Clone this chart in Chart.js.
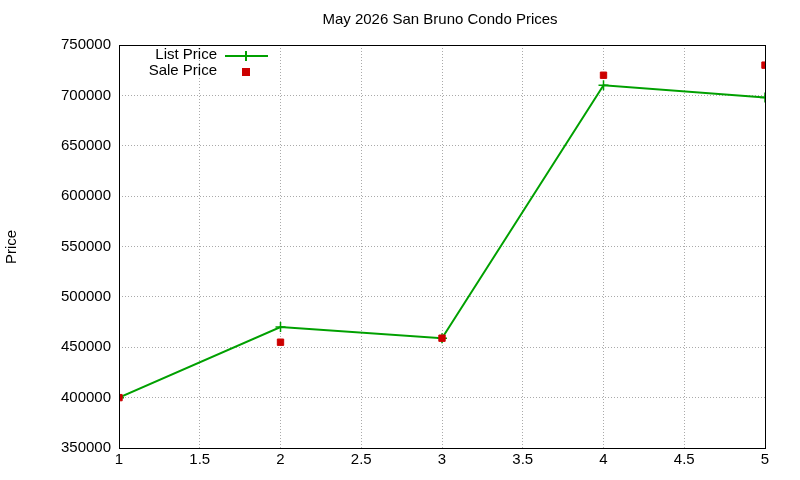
<!DOCTYPE html>
<html><head><script src="https://cdn.jsdelivr.net/npm/chart.js@4"></script>
<style>html,body{margin:0;background:#fff}#w{width:800px;height:480px}</style></head>
<body><div id="w"><canvas id="c"></canvas></div>
<script>
const xValues=[1,2,3,4,5];
const listPrice=[400000,470000,459000,710000,698000];
const salePrice=[400000,455000,459000,720000,730000];
const titleText='May 2026 San Bruno Condo Prices';
const yTitle='Price';
const F='"Liberation Sans", Arial, sans-serif';
const deco={id:'deco',afterDraw(ch){
 const c=ch.ctx,a=ch.chartArea;
 c.save();
 c.strokeStyle='#000';c.lineWidth=1;c.strokeRect(a.left+0.5,a.top+0.5,a.right-a.left,a.bottom-a.top);
 c.fillStyle='#000';c.font='15px '+F;c.textAlign='center';c.textBaseline='middle';
 c.fillText(titleText,440,20);
 c.translate(12,247);c.rotate(-Math.PI/2);c.fillText(yTitle,0,0);
 c.restore();c.save();
 c.font='15px '+F;c.textAlign='right';c.textBaseline='middle';c.fillStyle='#000';
 c.fillText('List Price',217,55);c.fillText('Sale Price',217,71);
 c.strokeStyle='#00a000';c.lineWidth=2;c.beginPath();c.moveTo(225,56);c.lineTo(268,56);
 c.moveTo(246,51);c.lineTo(246,61);c.stroke();
 c.fillStyle='#cc0000';c.fillRect(242,68,8,8);
 c.restore();
}};
new Chart(document.getElementById('c'),{
 type:'line',
 data:{datasets:[
  {label:'Sale Price',order:0,data:xValues.map((x,i)=>({x,y:salePrice[i]})),showLine:false,pointStyle:'rect',pointRadius:4.5,pointBackgroundColor:'#cc0000',pointBorderColor:'#cc0000'},
  {label:'List Price',order:1,data:xValues.map((x,i)=>({x,y:listPrice[i]})),borderColor:'#00a000',borderWidth:2,pointStyle:'cross',pointRadius:5,pointBorderColor:'#00a000',pointBorderWidth:1.5,fill:false,tension:0}
 ]},
 options:{responsive:true,maintainAspectRatio:false,animation:false,
  layout:{padding:{left:0,right:35,top:45,bottom:0}},
  plugins:{legend:{display:false},tooltip:{enabled:false}},
  scales:{
   x:{type:'linear',min:1,max:5,ticks:{stepSize:0.5,color:'#000',font:{size:15,family:F},maxRotation:0,callback:v=>String(v)},
      grid:{color:'#aaa',drawTicks:false},border:{display:false,dash:[1,2]},afterFit(s){s.height=32}},
   y:{min:350000,max:750000,ticks:{stepSize:50000,color:'#000',font:{size:15,family:F},padding:8,callback:v=>String(v)},
      grid:{color:'#aaa',drawTicks:false},border:{display:false,dash:[1,2]},afterFit(s){s.width=119}}
  }},
 plugins:[deco]
});
</script></body></html>
